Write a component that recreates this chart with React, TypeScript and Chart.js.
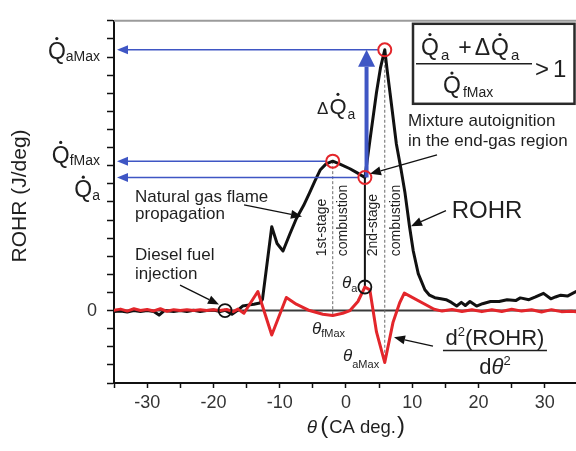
import React, { useEffect, useRef } from 'react';
import { Chart, registerables } from 'chart.js';

Chart.register(...registerables);

const FONT = '"Liberation Sans", Arial, Helvetica, sans-serif';
const INK = '#1f1f1f';
const RED = '#e3262b';
const BLUE = '#3f56c4';

// x axis: crank angle (deg)
const thetaMin = -35;
const thetaMax = 34.7;
const thetaStep = 5;
const thetaLabelValues = [-30, -20, -10, 0, 10, 20, 30];
// y axis: ROHR in tick units
const rohrMin = -4;
const rohrMax = 16;
const rohrLabelValues = [0];

// ROHR curve
const rohrTheta = [-35, -34, -33, -32, -31, -30, -29, -28.2, -27.4, -26, -25, -24, -23, -22, -21, -20, -19, -18.25, -17.2, -16.4, -15.6, -14.8, -13.9, -13.0, -12.6, -11.2, -10.4, -9.5, -8.5, -7.5, -6.4, -5.5, -4.7, -3.9, -3.0, -2.0, -1.0, 0.6, 1.7, 2.85, 3.6, 4.6, 5.2, 5.85, 6.2, 6.65, 7.6, 8.3, 8.9, 9.6, 10.15, 10.9, 11.9, 12.6, 13.4, 14.3, 15.1, 15.9, 16.7, 17.4, 18.0, 18.7, 19.7, 20.6, 21.8, 23.1, 24.3, 25.6, 26.3, 27.6, 28.6, 29.8, 30.9, 31.6, 32.4, 33.4, 34.7];
const rohrValues = [-0.05, -0.02, -0.08, 0, -0.05, 0, -0.05, -0.25, 0, -0.05, 0, -0.05, 0.02, -0.05, 0, 0.03, -0.05, 0.02, -0.2, 0, 0.25, 0.3, 0.35, 0.42, 0.62, 4.63, 3.7, 3.29, 4.2, 5.07, 5.8, 6.5, 7.15, 7.76, 8.1, 8.25, 8.1, 7.83, 7.6, 7.35, 9.37, 12.04, 13.4, 14.4, 13.3, 12.0, 9.2, 7.8, 6.5, 4.6, 3.29, 2.04, 1.15, 0.85, 0.71, 0.65, 0.6, 0.45, 0.25, 0.45, 0.28, 0.5, 0.25, 0.38, 0.5, 0.5, 0.6, 0.55, 0.7, 0.6, 0.75, 0.95, 0.65, 0.75, 0.85, 0.8, 1.05];

// second derivative curve
const d2Theta = [-35, -34, -33, -32, -31, -30, -29, -28, -27, -26, -25, -24, -23, -22, -21, -20, -19, -18, -17, -16.3, -15.4, -13.3, -11.2, -9.0, -7.5, -5.5, -3.5, -2.0, -0.5, 0.6, 1.8, 2.85, 3.6, 4.6, 5.85, 7.1, 8.1, 8.8, 13.3, 14.5, 16.0, 17.5, 19.0, 20.5, 22.0, 23.5, 25.0, 26.5, 28.0, 29.5, 31.0, 32.5, 34.0, 34.7];
const d2Values = [0.02, 0.08, -0.03, 0.1, 0, 0.06, -0.02, 0.1, -0.04, 0.05, 0, 0.05, 0, 0.04, 0, 0.05, 0, 0.06, -0.06, 0.08, -0.15, 1.05, -1.35, 0.72, 0.35, 0, -0.2, -0.27, -0.15, 0, 0.5, 1.3, 1.14, -1.18, -2.87, -0.64, 0.43, 0.96, 0.07, -0.03, 0.06, -0.05, 0.05, -0.06, 0.04, -0.05, 0.07, -0.03, 0.04, -0.08, 0.05, -0.06, -0.04, -0.06];

// characteristic points
const thetaInjection = -18.25;
const thetaFMax = -2.0;
const qFMax = 8.25;
const thetaA = 2.85;
const qA = 7.35;
const thetaAMax = 5.85;
const qAMax = 14.4;
const d2AtThetaA = 1.3;
const d2AtFMax = -0.27;
const d2AtAMax = -2.87;
const deltaArrowTheta = 3.1;

type Part = { t: string; size: number; dy?: number; italic?: boolean; dot?: boolean; gap?: number };

function fontOf(size: number, italic?: boolean) {
  return `${italic ? 'italic ' : ''}${size}px ${FONT}`;
}

function drawRun(ctx: CanvasRenderingContext2D, parts: Part[], x: number, y: number, align: 'left' | 'center' | 'right' = 'left', color = INK) {
  ctx.textAlign = 'left';
  ctx.textBaseline = 'alphabetic';
  ctx.fillStyle = color;
  const widths = parts.map((p) => {
    ctx.font = fontOf(p.size, p.italic);
    return ctx.measureText(p.t).width;
  });
  const total = widths.reduce((s, w, i) => s + w + (parts[i].gap || 0), 0);
  let cx = align === 'center' ? x - total / 2 : align === 'right' ? x - total : x;
  parts.forEach((p, i) => {
    cx += p.gap || 0;
    ctx.font = fontOf(p.size, p.italic);
    const by = y + (p.dy || 0);
    ctx.fillText(p.t, cx, by);
    if (p.dot) {
      ctx.beginPath();
      ctx.arc(cx + widths[i] / 2, by - p.size * 0.88, Math.max(1.3, p.size * 0.07), 0, Math.PI * 2);
      ctx.fill();
    }
    cx += widths[i];
  });
  return total;
}

function seg(ctx: CanvasRenderingContext2D, x1: number, y1: number, x2: number, y2: number, color: string, lw: number) {
  ctx.strokeStyle = color;
  ctx.lineWidth = lw;
  ctx.beginPath();
  ctx.moveTo(x1, y1);
  ctx.lineTo(x2, y2);
  ctx.stroke();
}

function arrow(ctx: CanvasRenderingContext2D, x1: number, y1: number, x2: number, y2: number, color: string, lw: number, hl: number, hw: number) {
  const ang = Math.atan2(y2 - y1, x2 - x1);
  const bx = x2 - hl * Math.cos(ang);
  const by = y2 - hl * Math.sin(ang);
  seg(ctx, x1, y1, bx, by, color, lw);
  ctx.fillStyle = color;
  ctx.beginPath();
  ctx.moveTo(x2, y2);
  ctx.lineTo(bx + hw * Math.sin(ang), by - hw * Math.cos(ang));
  ctx.lineTo(bx - hw * Math.sin(ang), by + hw * Math.cos(ang));
  ctx.closePath();
  ctx.fill();
}

function ring(ctx: CanvasRenderingContext2D, x: number, y: number, color: string, lw: number) {
  ctx.strokeStyle = color;
  ctx.lineWidth = lw;
  ctx.beginPath();
  ctx.arc(x, y, 6.5, 0, Math.PI * 2);
  ctx.stroke();
}

function vtext(ctx: CanvasRenderingContext2D, s: string, x: number, y: number, size: number) {
  ctx.save();
  ctx.translate(x, y);
  ctx.rotate(-Math.PI / 2);
  ctx.font = fontOf(size);
  ctx.textAlign = 'left';
  ctx.textBaseline = 'middle';
  ctx.fillStyle = INK;
  ctx.fillText(s, 0, 0);
  ctx.restore();
}

const annotations = {
  id: 'rohrAnnotations',
  beforeDatasetsDraw(chart: any) {
    const { ctx, chartArea: a, scales } = chart;
    const X = (v: number) => scales.x.getPixelForValue(v);
    const Y = (v: number) => scales.y.getPixelForValue(v);
    ctx.save();
    seg(ctx, a.left, a.top, a.right, a.top, '#9b9b9b', 2);
    seg(ctx, a.left, Y(0), a.right, Y(0), '#3a3a3a', 2);
    ctx.setLineDash([3, 2]);
    seg(ctx, X(thetaFMax), Y(qFMax), X(thetaFMax), Y(d2AtFMax), '#6a6a6a', 1);
    seg(ctx, X(thetaAMax), Y(qAMax), X(thetaAMax), Y(d2AtAMax), '#6a6a6a', 1);
    ctx.setLineDash([]);
    seg(ctx, X(thetaA), Y(qA), X(thetaA), Y(d2AtThetaA), '#111', 2);
    ctx.restore();
  },
  afterDatasetsDraw(chart: any) {
    const { ctx, chartArea: a, scales } = chart;
    const X = (v: number) => scales.x.getPixelForValue(v);
    const Y = (v: number) => scales.y.getPixelForValue(v);
    ctx.save();

    // blue reference arrows
    arrow(ctx, X(thetaAMax) - 6, Y(qAMax), a.left + 3, Y(qAMax), BLUE, 1.5, 11, 4.5);
    arrow(ctx, X(thetaFMax) - 6, Y(qFMax), a.left + 3, Y(qFMax), BLUE, 1.5, 11, 4.5);
    arrow(ctx, X(thetaA) - 6, Y(qA), a.left + 3, Y(qA), BLUE, 1.5, 11, 4.5);
    arrow(ctx, X(deltaArrowTheta), Y(qA), X(deltaArrowTheta), Y(qAMax), BLUE, 4, 17, 8.5);

    // markers
    ring(ctx, X(thetaAMax), Y(qAMax), RED, 2);
    ring(ctx, X(thetaFMax), Y(qFMax), RED, 2);
    ring(ctx, X(thetaA), Y(qA), RED, 2);
    ring(ctx, X(thetaA), Y(d2AtThetaA), '#111', 1.8);
    ring(ctx, X(thetaInjection), Y(0), '#111', 1.8);

    // left axis symbols
    const lx = a.left - 14;
    drawRun(ctx, [{ t: 'Q', size: 23, dot: true }, { t: 'aMax', size: 14, dy: 2.5 }], lx, Y(qAMax) + 9, 'right');
    drawRun(ctx, [{ t: 'Q', size: 23, dot: true }, { t: 'fMax', size: 14, dy: 2.5 }], lx, Y(qFMax) + 1.5, 'right');
    drawRun(ctx, [{ t: 'Q', size: 23, dot: true }, { t: 'a', size: 14, dy: 2.5 }], lx, Y(qA) + 20, 'right');

    // annotation texts
    drawRun(ctx, [{ t: 'Natural gas flame', size: 17 }], X(-31.82), Y(6.0));
    drawRun(ctx, [{ t: 'propagation', size: 17 }], X(-31.82), Y(5.03));
    arrow(ctx, X(-15.38), Y(5.84), X(-6.64), Y(5.19), '#111', 1.3, 11, 4.5);

    drawRun(ctx, [{ t: 'Diesel fuel', size: 17 }], X(-31.82), Y(2.79));
    drawRun(ctx, [{ t: 'injection', size: 17 }], X(-31.82), Y(1.74));
    arrow(ctx, X(-25.04), Y(1.4), X(-19.16), Y(0.33), '#111', 1.3, 11, 4.5);

    drawRun(ctx, [{ t: 'Mixture autoignition', size: 17 }], X(9.35), Y(10.17));
    drawRun(ctx, [{ t: 'in the end-gas region', size: 17 }], X(9.35), Y(9.07));
    arrow(ctx, X(13.73), Y(8.59), X(3.62), Y(7.55), '#111', 1.3, 11, 4.5);

    drawRun(ctx, [{ t: 'ROHR', size: 24 }], X(15.94), Y(5.09));
    arrow(ctx, X(15.08), Y(5.52), X(9.8), Y(4.66), '#111', 1.3, 11, 4.5);

    const fx = X(22.47);
    drawRun(ctx, [{ t: 'd', size: 22 }, { t: '2', size: 13, dy: -9 }, { t: '(ROHR)', size: 22 }], fx, Y(-1.88), 'center');
    seg(ctx, X(14.63), Y(-2.2), X(30.32), Y(-2.2), INK, 1.5);
    drawRun(ctx, [{ t: 'd', size: 22 }, { t: 'θ', size: 22, italic: true }, { t: '2', size: 13, dy: -9 }], fx, Y(-3.52), 'center');
    arrow(ctx, X(13.12), Y(-1.97), X(7.24), Y(-1.48), '#111', 1.3, 11, 4.5);

    drawRun(ctx, [{ t: 'θ', size: 17, italic: true }, { t: 'a', size: 11, dy: 4 }], X(-0.6), Y(1.23));
    drawRun(ctx, [{ t: 'θ', size: 17, italic: true }, { t: 'fMax', size: 11, dy: 3 }], X(-5.13), Y(-1.27));
    drawRun(ctx, [{ t: 'θ', size: 17, italic: true }, { t: 'aMax', size: 11, dy: 7 }], X(-0.45), Y(-2.79));

    drawRun(ctx, [{ t: 'Δ', size: 17 }, { t: 'Q', size: 22, dot: true, gap: 1 }, { t: 'a', size: 14, dy: 5, gap: 1 }], X(-4.37), Y(10.87));

    vtext(ctx, '1st-stage', X(-3.67), Y(3.0), 14);
    vtext(ctx, 'combustion', X(-0.45), Y(3.0), 14);
    vtext(ctx, '2nd-stage', X(4.07), Y(3.0), 14);
    vtext(ctx, 'combustion', X(7.62), Y(3.0), 14);

    // criterion box
    const bx = a.right - 163;
    const by = a.top + 3;
    ctx.strokeStyle = '#2a2a2a';
    ctx.lineWidth = 2.5;
    ctx.strokeRect(bx, by, 161.5, 80);
    drawRun(ctx, [
      { t: 'Q', size: 23, dot: true },
      { t: 'a', size: 15, dy: 5, gap: 2 },
      { t: '+', size: 23, gap: 9 },
      { t: 'Δ', size: 23, gap: 3 },
      { t: 'Q', size: 23, dot: true, gap: 1 },
      { t: 'a', size: 15, dy: 5, gap: 2 },
    ], bx + 8, by + 31);
    seg(ctx, bx + 3, by + 40, bx + 119, by + 40, INK, 1.5);
    drawRun(ctx, [{ t: 'Q', size: 23, dot: true }, { t: 'fMax', size: 14, dy: 3.5, gap: 2 }], bx + 30, by + 69.5);
    drawRun(ctx, [{ t: '>', size: 24 }, { t: '1', size: 24, gap: 4 }], bx + 122, by + 53);

    // axis titles
    drawRun(ctx, [
      { t: 'θ', size: 19, italic: true },
      { t: '(', size: 24, gap: 3 },
      { t: 'CA deg.', size: 18.5, gap: 1 },
      { t: ')', size: 24, gap: 1 },
    ], X(1.5), a.bottom + 50, 'center');

    ctx.save();
    ctx.translate(20, (a.top + a.bottom) / 2 - 6);
    ctx.rotate(-Math.PI / 2);
    ctx.font = fontOf(21);
    ctx.textAlign = 'center';
    ctx.textBaseline = 'middle';
    ctx.fillStyle = INK;
    ctx.fillText('ROHR (J/deg)', 0, 0);
    ctx.restore();

    ctx.restore();
  },
};

export default function App() {
  const ref = useRef<HTMLCanvasElement | null>(null);
  useEffect(() => {
    document.body.style.margin = '0';
    const canvas = ref.current;
    if (!canvas) return;
    const rohrPoints = rohrTheta.map((t, i) => ({ x: t, y: rohrValues[i] }));
    const d2Points = d2Theta.map((t, i) => ({ x: t, y: d2Values[i] }));
    const chart = new Chart(canvas, {
      type: 'line',
      data: {
        datasets: [
          { label: 'd2(ROHR)/dθ2', data: d2Points, borderColor: RED, borderWidth: 3, pointRadius: 0, tension: 0, order: 0, borderJoinStyle: 'round', borderCapStyle: 'round' },
          { label: 'ROHR', data: rohrPoints, borderColor: '#111', borderWidth: 3, pointRadius: 0, tension: 0, order: 1, borderJoinStyle: 'round', borderCapStyle: 'round' },
        ],
      },
      options: {
        animation: false,
        responsive: false,
        layout: { padding: { top: 9, right: 0, left: 0, bottom: 0 } },
        plugins: { legend: { display: false }, tooltip: { enabled: false } },
        scales: {
          x: {
            type: 'linear',
            min: thetaMin,
            max: thetaMax,
            afterFit: (s: any) => { s.height = 68; },
            ticks: {
              stepSize: thetaStep,
              includeBounds: false,
              autoSkip: false,
              maxRotation: 0,
              padding: 4,
              color: '#333',
              font: { family: FONT, size: 18 },
              callback: (v: any) => (thetaLabelValues.includes(Number(v)) ? String(v) : ''),
            },
            grid: { drawOnChartArea: false, drawTicks: true, tickLength: 5, tickColor: '#111', tickWidth: 1.5 },
            border: { color: '#111', width: 2 },
          },
          y: {
            type: 'linear',
            min: rohrMin,
            max: rohrMax,
            afterFit: (s: any) => { s.width = 114; },
            ticks: {
              stepSize: 1,
              autoSkip: false,
              padding: 10,
              color: '#333',
              font: { family: FONT, size: 18 },
              callback: (v: any) => (rohrLabelValues.includes(Number(v)) ? String(v) : ''),
            },
            grid: { drawOnChartArea: false, drawTicks: true, tickLength: 7, tickColor: '#111', tickWidth: 1.5 },
            border: { color: '#111', width: 2 },
          },
        },
      } as any,
      plugins: [annotations],
    });
    return () => chart.destroy();
  }, []);
  return (
    <div style={{ width: 576, height: 451 }}>
      <canvas ref={ref} width={576} height={451} style={{ display: 'block' }} />
    </div>
  );
}
